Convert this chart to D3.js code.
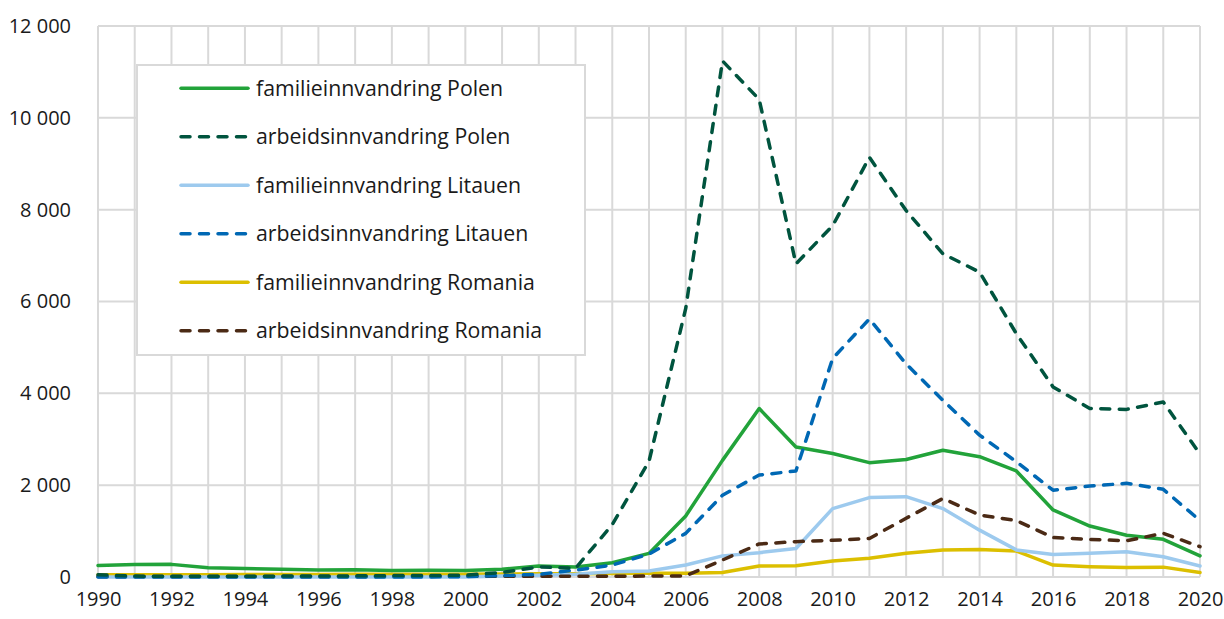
<!DOCTYPE html>
<html>
<head>
<meta charset="utf-8">
<script src="https://cdn.jsdelivr.net/npm/d3@7"></script>
<style>
  body { margin: 0; background: #fff; }
  svg text { font-family: "Open Sans", "Noto Sans", sans-serif; fill: #1a1a1a; }
</style>
</head>
<body>
<div id="chart"></div>
<script>
var years = d3.range(1990, 2021);
var yTicks = [0, 2000, 4000, 6000, 8000, 10000, 12000];
var xTicks = d3.range(1990, 2021, 2);

var familiePolen = [250, 270, 275, 200, 185, 170, 150, 160, 140, 145, 140, 170, 240, 220, 310, 515,
    1330, 2540, 3670, 2830, 2690, 2490, 2560, 2760, 2620, 2310, 1460, 1110, 910, 820, 460];
var arbeidsPolen = [50, 20, 15, 15, 15, 20, 20, 25, 30, 30, 40, 100, 220, 190, 1140, 2520,
    5850, 11240, 10400, 6820, 7650, 9140, 7980, 7040, 6640, 5300, 4140, 3670, 3650, 3810, 2680];
var familieLitauen = [0, 0, 0, 0, 0, 0, 0, 0, 0, 0, 0, 20, 40, 60, 116, 130,
    260, 460, 530, 620, 1490, 1730, 1750, 1490, 1020, 590, 490, 515, 550, 440, 240];
var arbeidsLitauen = [0, 0, 0, 0, 0, 0, 0, 0, 0, 0, 10, 30, 60, 150, 260, 500,
    950, 1780, 2220, 2310, 4760, 5620, 4640, 3850, 3090, 2510, 1890, 1980, 2040, 1910, 1230];
var familieRomania = [50, 50, 50, 50, 55, 55, 55, 60, 60, 60, 60, 65, 70, 70, 75, 80,
    80, 100, 240, 245, 350, 410, 515, 590, 600, 565, 260, 225, 205, 215, 100];
var arbeidsRomania = [10, 10, 10, 10, 10, 10, 10, 10, 15, 15, 15, 15, 15, 15, 15, 20,
    25, 370, 720, 770, 800, 840, 1280, 1710, 1350, 1230, 860, 820, 790, 950, 660];

var seriesNames = ["familieinnvandring Polen", "arbeidsinnvandring Polen",
    "familieinnvandring Litauen", "arbeidsinnvandring Litauen",
    "familieinnvandring Romania", "arbeidsinnvandring Romania"];
var seriesValues = [familiePolen, arbeidsPolen, familieLitauen, arbeidsLitauen, familieRomania, arbeidsRomania];
var seriesColors = ["#22a33a", "#00543e", "#9dcaee", "#0068b4", "#dcbf00", "#4b2a15"];
var seriesDashed = [false, true, false, true, false, true];

var width = 1224, height = 619;
var margin = {left: 98, right: 24, top: 26, bottom: 42};

var svg = d3.select("#chart").append("svg")
    .attr("width", width)
    .attr("height", height);

var x = d3.scaleLinear()
    .domain([1990, 2020])
    .range([margin.left, width - margin.right]);

var y = d3.scaleLinear()
    .domain([0, 12000])
    .range([height - margin.bottom, margin.top]);

// grid
svg.append("g").selectAll("line.v")
    .data(years)
    .enter()
    .append("line")
    .attr("x1", function (d) { return x(d); })
    .attr("x2", function (d) { return x(d); })
    .attr("y1", y(0))
    .attr("y2", y(12000))
    .attr("stroke", "#d9d9d9")
    .attr("stroke-width", 2);

svg.append("g").selectAll("line.h")
    .data(yTicks)
    .enter()
    .append("line")
    .attr("x1", x(1990))
    .attr("x2", x(2020))
    .attr("y1", function (d) { return y(d); })
    .attr("y2", function (d) { return y(d); })
    .attr("stroke", "#d9d9d9")
    .attr("stroke-width", 2);

var fmt = function (d) {
    return d3.format(",")(d).replace(/,/g, " ");
};

// axes (labels only)
var yAxis = svg.append("g")
    .attr("transform", "translate(" + (margin.left - 24) + ",0)")
    .call(d3.axisLeft(y).tickValues(yTicks).tickFormat(fmt).tickSize(0));
yAxis.select(".domain").remove();
yAxis.selectAll("text").attr("font-size", 20).attr("font-family", null).attr("dx", 0);

var xAxis = svg.append("g")
    .attr("transform", "translate(0," + (y(0) + 12) + ")")
    .call(d3.axisBottom(x).tickValues(xTicks).tickFormat(d3.format("d")).tickSize(0));
xAxis.select(".domain").remove();
xAxis.selectAll("text").attr("font-size", 20).attr("font-family", null);

// lines
var line = d3.line()
    .x(function (d, i) { return x(years[i]); })
    .y(function (d) { return y(d); });

var drawOrder = [4, 2, 0, 5, 3, 1];
drawOrder.forEach(function (k) {
    svg.append("path")
        .datum(seriesValues[k])
        .attr("d", line)
        .attr("fill", "none")
        .attr("stroke", seriesColors[k])
        .attr("stroke-width", 3.5)
        .attr("stroke-linejoin", "round")
        .attr("stroke-linecap", "round")
        .attr("stroke-dasharray", seriesDashed[k] ? "9,9.5" : null);
});

// legend
var legend = svg.append("g");
legend.append("rect")
    .attr("x", 137)
    .attr("y", 65)
    .attr("width", 448)
    .attr("height", 290)
    .attr("fill", "#fff")
    .attr("stroke", "#d9d9d9")
    .attr("stroke-width", 2);

var items = legend.selectAll("g.item")
    .data(seriesNames)
    .enter()
    .append("g")
    .attr("transform", function (d, i) { return "translate(0," + (88.3 + i * 48.5) + ")"; });

items.append("line")
    .attr("x1", 181)
    .attr("x2", 248)
    .attr("stroke", function (d, i) { return seriesColors[i]; })
    .attr("stroke-width", 3.5)
    .attr("stroke-linecap", "round")
    .attr("stroke-dasharray", function (d, i) { return seriesDashed[i] ? "9,9.5" : null; });

items.append("text")
    .attr("x", 256)
    .attr("dy", "0.35em")
    .attr("font-size", 21.3)
    .text(function (d) { return d; });
</script>
</body>
</html>
